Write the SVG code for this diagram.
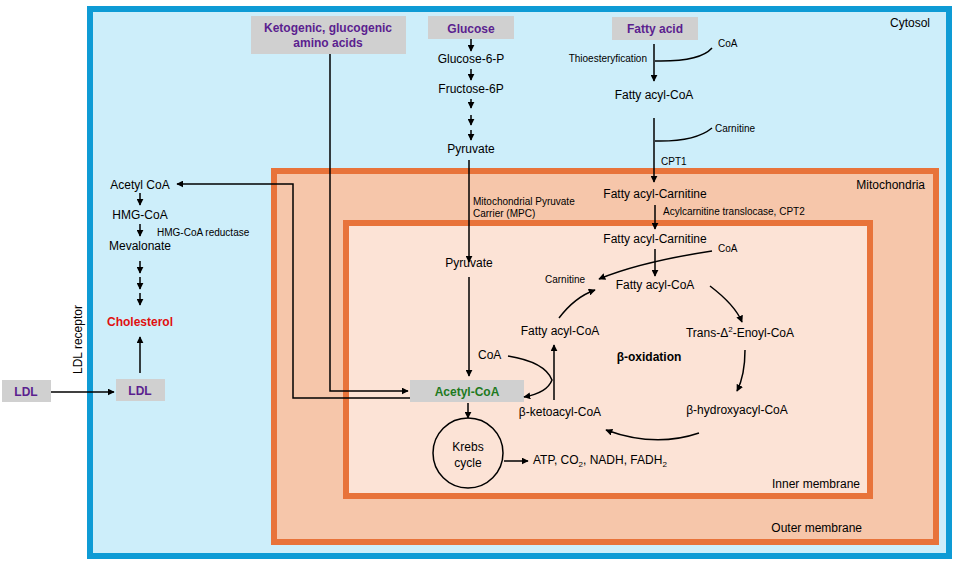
<svg xmlns="http://www.w3.org/2000/svg" width="980" height="569" viewBox="0 0 980 569">
<defs>
<marker id="ah" viewBox="0 0 10 10" refX="9" refY="5" markerWidth="7" markerHeight="7" orient="auto" markerUnits="userSpaceOnUse"><path d="M0,0L10,5L0,10z" fill="#000"/></marker>
<style>
text{font-family:"Liberation Sans",Arial,sans-serif;fill:#000}
.t{font-size:12px}
.s{font-size:10px}
.p{font-size:12px;font-weight:bold;fill:#5b1f8f}
.b{fill:#d0d0d0}
.l{stroke:#000;stroke-width:1.5;fill:none}
.a{stroke:#000;stroke-width:1.5;fill:none;marker-end:url(#ah)}
</style>
</defs>
<rect width="980" height="569" fill="#fff"/>
<g id="cytosol"><rect x="90" y="9" width="859" height="547" fill="#cdeefa" stroke="#0e9bd5" stroke-width="6"/><text class="t" x="930" y="27" text-anchor="end">Cytosol</text></g>
<g id="outer"><rect x="274" y="171" width="662" height="371" fill="#f6c6aa" stroke="#e8733a" stroke-width="6"/><text class="t" x="925" y="189" text-anchor="end">Mitochondria</text><text class="t" x="862" y="532" text-anchor="end">Outer membrane</text></g>
<g id="inner"><rect x="346" y="223" width="524" height="273" fill="#fce3d6" stroke="#e8733a" stroke-width="6"/><text class="t" x="860" y="488" text-anchor="end">Inner membrane</text></g>
<g id="nodes">
<g id="keto"><rect class="b" x="251" y="16" width="155" height="38"/><text class="p" x="328" y="32" text-anchor="middle">Ketogenic, glucogenic</text><text class="p" x="328" y="47" text-anchor="middle">amino acids</text></g>
<g id="glucose"><rect class="b" x="428" y="16" width="86" height="23"/><text class="p" x="471" y="33" text-anchor="middle">Glucose</text></g>
<g id="fattyacid"><rect class="b" x="612" y="17" width="86" height="23"/><text class="p" x="655" y="33" text-anchor="middle">Fatty acid</text></g>
<text class="t" x="471" y="63" text-anchor="middle">Glucose-6-P</text>
<text class="t" x="471" y="93" text-anchor="middle">Fructose-6P</text>
<text class="t" x="471" y="153" text-anchor="middle">Pyruvate</text>
<text class="s" x="647" y="62" text-anchor="end">Thioesteryfication</text>
<text class="s" x="718" y="47">CoA</text>
<text class="t" x="654" y="99" text-anchor="middle">Fatty acyl-CoA</text>
<text class="s" x="715" y="132">Carnitine</text>
<text class="s" x="661" y="165">CPT1</text>
<text class="t" x="655" y="198" text-anchor="middle">Fatty acyl-Carnitine</text>
<text class="s" x="663" y="215">Acylcarnitine translocase, CPT2</text>
<text class="s" x="473" y="205">Mitochondrial Pyruvate</text>
<text class="s" x="473" y="217">Carrier (MPC)</text>
<text class="t" x="655" y="243" text-anchor="middle">Fatty acyl-Carnitine</text>
<text class="s" x="718" y="252">CoA</text>
<text class="s" x="545" y="283">Carnitine</text>
<text class="t" x="655" y="289" text-anchor="middle">Fatty acyl-CoA</text>
<text class="t" x="469" y="267" text-anchor="middle">Pyruvate</text>
<text class="t" x="560" y="335" text-anchor="middle">Fatty acyl-CoA</text>
<text class="t" x="740" y="337" text-anchor="middle">Trans-Δ<tspan font-size="8" dy="-5">2</tspan><tspan dy="5">-Enoyl-CoA</tspan></text>
<text class="t" x="649" y="361" text-anchor="middle" font-weight="bold">β-oxidation</text>
<text class="t" x="478" y="359">CoA</text>
<text class="t" x="560" y="416" text-anchor="middle">β-ketoacyl-CoA</text>
<text class="t" x="737" y="414" text-anchor="middle">β-hydroxyacyl-CoA</text>
<g id="acetylcoa"><rect class="b" x="410" y="380" width="114" height="22"/><text x="467" y="396" text-anchor="middle" font-size="12" font-weight="bold" style="fill:#1e7a1e">Acetyl-CoA</text></g>
<g id="krebs"><circle cx="468" cy="453" r="35" fill="none" stroke="#000" stroke-width="1.5"/><text class="t" x="468" y="451" text-anchor="middle">Krebs</text><text class="t" x="468" y="467" text-anchor="middle">cycle</text></g>
<text class="t" x="533" y="464">ATP, CO<tspan font-size="8" dy="3">2</tspan><tspan dy="-3">, NADH, FADH</tspan><tspan font-size="8" dy="3">2</tspan></text>
<text class="t" x="140" y="189" text-anchor="middle">Acetyl CoA</text>
<text class="t" x="140" y="219" text-anchor="middle">HMG-CoA</text>
<text class="s" x="157" y="236">HMG-CoA reductase</text>
<text class="t" x="140" y="250" text-anchor="middle">Mevalonate</text>
<text x="140" y="326" text-anchor="middle" font-size="12" font-weight="bold" style="fill:#e01010">Cholesterol</text>
<g id="ldl1"><rect class="b" x="2" y="380" width="49" height="22"/><text class="p" x="26" y="396" text-anchor="middle">LDL</text></g>
<g id="ldl2"><rect class="b" x="116" y="379" width="49" height="22"/><text class="p" x="140" y="395" text-anchor="middle">LDL</text></g>
<text class="t" transform="translate(82,374) rotate(-90)">LDL receptor</text>
</g>
<g id="connectors">
<path class="a" d="M471,39V51"/><path class="a" d="M471,69V80"/><path class="a" d="M471,99V108"/><path class="a" d="M471,115V125"/><path class="a" d="M471,130V140"/>
<path class="a" d="M469,160V262"/>
<path class="a" d="M469,277V376"/>
<path class="l" d="M330,54V391H408" marker-end="url(#ah)"/>
<path class="l" d="M410,398H293V184H177" marker-end="url(#ah)"/>
<path class="a" d="M468,403V418"/>
<path class="a" d="M504,461H528"/>
<path class="a" d="M654,44V81"/><path class="l" d="M655,61Q700,62 712,48"/>
<path class="a" d="M654,118V182"/><path class="l" d="M655,141Q695,142 712,128"/>
<path class="a" d="M655,205V229"/>
<path class="a" d="M655,249V276"/><path class="l" d="M712,251Q640,262 599,279" marker-end="url(#ah)"/>
<path class="a" d="M710,286Q735,305 742,322"/>
<path class="a" d="M745,350Q745,375 737,391"/>
<path class="a" d="M699,433Q655,448 606,430"/>
<path class="a" d="M554,400V345"/>
<path class="a" d="M559,318Q575,297 595,290"/>
<path class="l" d="M508,356Q545,362 552,380Q547,393 524,397" marker-end="url(#ah)"/>
<path class="a" d="M140,193V205"/><path class="a" d="M140,224V236"/><path class="a" d="M140,261V273"/><path class="a" d="M140,277V289"/><path class="a" d="M140,293V305"/>
<path class="a" d="M140,373V337"/>
<path class="a" d="M51,392H114"/>
</g>
</svg>
